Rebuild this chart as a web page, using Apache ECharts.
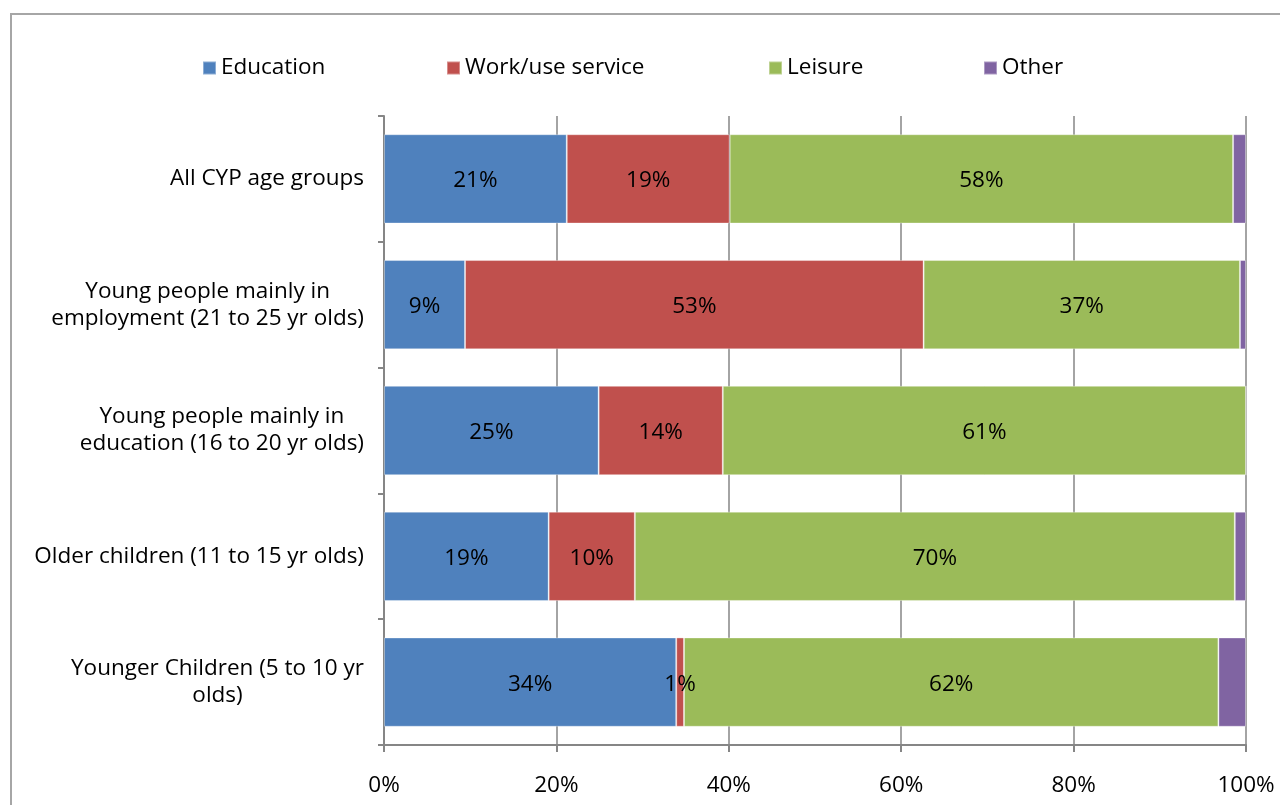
<!DOCTYPE html>
<html>
<head>
<meta charset="utf-8">
<script src="https://cdn.jsdelivr.net/npm/echarts@6/dist/echarts.min.js"></script>
<style>
  html, body { margin: 0; padding: 0; background: #fff; }
  #chart { width: 1280px; height: 805px; }
</style>
</head>
<body>
<div id="chart"></div>
<script>
// Age groups, top to bottom
const categories = [
  'All CYP age groups',
  'Young people mainly in\nemployment (21 to 25 yr olds)',
  'Young people mainly in\neducation (16 to 20 yr olds)',
  'Older children (11 to 15 yr olds)',
  'Younger Children (5 to 10 yr\nolds)'
];

// Share of journeys by purpose (%)
const education = [21.2, 9.4, 24.9, 19.1, 33.9];
const workUseService = [18.9, 53.2, 14.4, 10.0, 0.9];
const leisure = [58.4, 36.7, 60.7, 69.6, 62.0];
const other = [1.5, 0.7, 0.0, 1.3, 3.2];

const seriesNames = ['Education', 'Work/use service', 'Leisure', 'Other'];
const seriesColors = ['#4F81BD', '#C0504D', '#9BBB59', '#8064A2'];
const seriesData = [education, workUseService, leisure, other];
const labelledSeries = [true, true, true, false];

const xTicks = [0, 20, 40, 60, 80, 100];

const FONT = 'Open Sans';
const FS = 22.5;

const chart = echarts.init(document.getElementById('chart'), null, { renderer: 'canvas' });

const legendLefts = [202, 446, 768, 983];

const option = {
  animation: false,
  backgroundColor: '#ffffff',
  textStyle: { fontFamily: FONT, color: '#000' },
  graphic: [{
    type: 'rect',
    shape: { x: 11, y: 14, width: 1400, height: 900 },
    style: { fill: 'none', stroke: '#a6a6a6', lineWidth: 2 },
    silent: true,
    z: -1
  }],
  legend: seriesNames.map((name, i) => ({
    data: [name],
    left: legendLefts[i],
    top: 54,
    padding: 0,
    itemWidth: 13,
    itemHeight: 13,
    icon: 'rect',
    itemGap: 0,
    textStyle: { fontFamily: FONT, fontSize: FS, color: '#000', lineHeight: 28 },
    selectedMode: false
  })),
  grid: { left: 384, right: 34, top: 116, bottom: 60, containLabel: false },
  xAxis: {
    type: 'value',
    min: xTicks[0],
    max: xTicks[xTicks.length - 1],
    interval: 20,
    axisLine: { show: true, lineStyle: { color: '#868686', width: 2 } },
    axisTick: { show: true, length: 7, lineStyle: { color: '#868686', width: 2 } },
    splitLine: { show: true, lineStyle: { color: '#868686', width: 1.5 } },
    axisLabel: {
      formatter: v => v + '%',
      fontFamily: FONT, fontSize: FS, color: '#000', margin: 29
    }
  },
  yAxis: {
    type: 'category',
    data: categories,
    inverse: true,
    axisLine: { show: true, lineStyle: { color: '#868686', width: 2 } },
    axisTick: { show: true, length: 6, lineStyle: { color: '#868686', width: 2 } },
    axisLabel: {
      margin: 20,
      align: 'right',
      // each line centred within the right-anchored label block
      formatter: v => v.split('\n').map(l => '{c|' + l + '}').join('\n'),
      rich: {
        c: { fontFamily: FONT, fontSize: FS, color: '#000', lineHeight: 27, align: 'center' }
      }
    }
  },
  series: seriesNames.map((name, i) => ({
    name,
    type: 'bar',
    stack: 'total',
    barCategoryGap: '29%',
    data: seriesData[i],
    itemStyle: { color: seriesColors[i], borderColor: 'rgba(255,255,255,0.35)', borderWidth: 1 },
    label: {
      show: labelledSeries[i],
      position: 'inside',
      offset: [0, 2],
      formatter: p => Math.round(p.value) + '%',
      fontFamily: FONT, fontSize: FS, color: '#000'
    }
  }))
};

chart.setOption(option);
</script>
</body>
</html>
